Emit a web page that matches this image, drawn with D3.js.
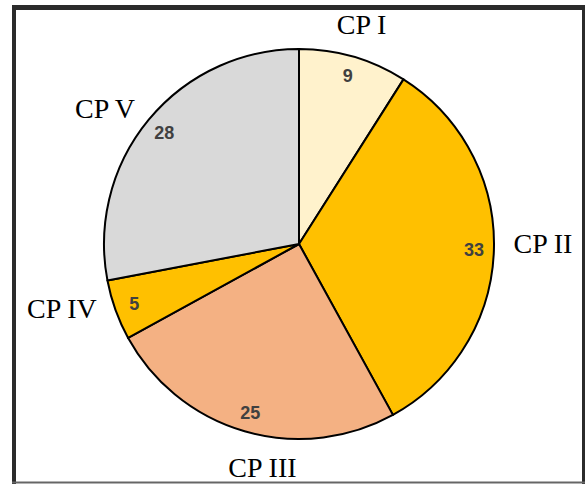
<!DOCTYPE html>
<html lang="en">
<head>
    <meta charset="UTF-8">
    <title>CP pie</title>
    <script src="https://d3js.org/d3.v7.min.js"></script>
    <style>
        body { margin: 0; background: #fff; }
        svg { display: block; }
    </style>
</head>
<body>
    <div id="chart"></div>
    <script>
        // data
        var categories = ['CP I', 'CP II', 'CP III', 'CP IV', 'CP V'];
        var values = [9, 33, 25, 5, 28];
        var colors = ['#FFF2CC', '#FFC000', '#F4B183', '#FFC000', '#D9D9D9'];

        const width = 585;
        const height = 484;
        const cx = 299, cy = 244;
        const radius = 195;

        // outer labels are hand placed in the original, small nudges from the arc
        const labelNudge = [[-3, 6], [9, -8], [29, -2], [-16, -15], [-13, 15]];

        const svg = d3.select('#chart')
            .append('svg')
            .attr('width', width)
            .attr('height', height);

        // frame
        svg.append('line').attr('x1', 12).attr('x2', 585).attr('y1', 7.5).attr('y2', 7.5)
            .attr('stroke', '#2b2b2b').attr('stroke-width', 5);
        svg.append('line').attr('x1', 14).attr('x2', 14).attr('y1', 5).attr('y2', 484)
            .attr('stroke', '#2b2b2b').attr('stroke-width', 4);
        svg.append('line').attr('x1', 583.5).attr('x2', 583.5).attr('y1', 5).attr('y2', 484)
            .attr('stroke', '#2b2b2b').attr('stroke-width', 3);
        svg.append('line').attr('x1', 12).attr('x2', 585).attr('y1', 482.5).attr('y2', 482.5)
            .attr('stroke', '#666').attr('stroke-width', 2);

        const data = categories.map((c, i) => ({ name: c, value: values[i], color: colors[i] }));

        const pie = d3.pie().sort(null).value(d => d.value);
        const arcs = pie(data);

        const arc = d3.arc().innerRadius(0).outerRadius(radius);
        const inArc = d3.arc().innerRadius(175).outerRadius(175);
        const outArc = d3.arc().innerRadius(235).outerRadius(235);

        const g = svg.append('g').attr('transform', `translate(${cx},${cy})`);

        g.selectAll('path.slice')
            .data(arcs)
            .enter().append('path')
            .attr('class', 'slice')
            .attr('d', arc)
            .attr('fill', d => d.data.color)
            .attr('stroke', '#000')
            .attr('stroke-width', 2)
            .attr('stroke-linejoin', 'round');

        // values inside
        g.selectAll('text.val')
            .data(arcs)
            .enter().append('text')
            .attr('class', 'val')
            .attr('transform', d => `translate(${inArc.centroid(d)})`)
            .attr('dy', '0.36em')
            .attr('text-anchor', 'middle')
            .style('font-family', '"Liberation Sans", Arial, sans-serif')
            .style('font-weight', 'bold')
            .style('font-size', '18px')
            .style('fill', '#404040')
            .text(d => d.data.value);

        // category names outside
        g.selectAll('text.cat')
            .data(arcs)
            .enter().append('text')
            .attr('class', 'cat')
            .attr('transform', (d, i) => {
                const p = outArc.centroid(d);
                return `translate(${p[0] + labelNudge[i][0]},${p[1] + labelNudge[i][1]})`;
            })
            .attr('dy', '0.33em')
            .attr('text-anchor', 'middle')
            .style('font-family', '"Liberation Serif", "Times New Roman", serif')
            .style('font-size', '28px')
            .style('fill', '#000')
            .text(d => d.data.name);
    </script>
</body>
</html>
